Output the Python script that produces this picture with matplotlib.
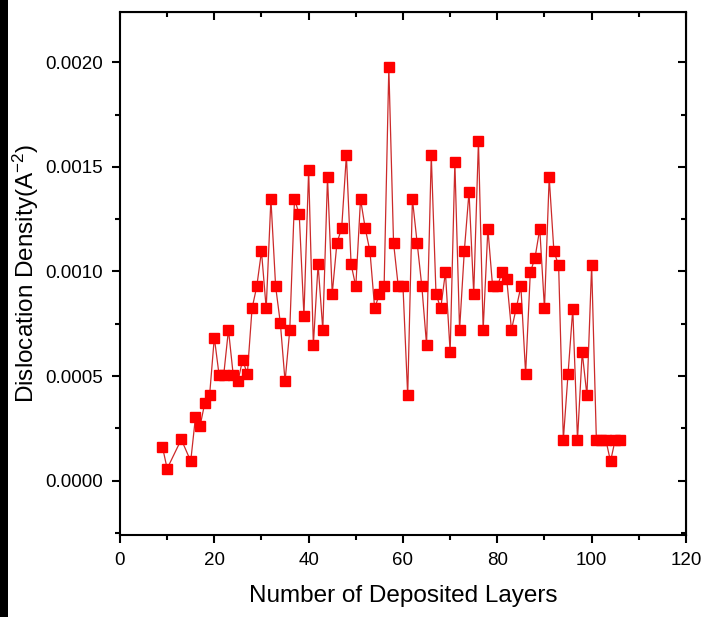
# Dislocation density vs number of deposited layers
import matplotlib.pyplot as plt
from matplotlib.ticker import MultipleLocator, FormatStrFormatter
import matplotlib.patches as mpatches

plt.rcParams['font.family'] = ['Liberation Sans', 'DejaVu Sans']
plt.rcParams['mathtext.default'] = 'regular'

# Data
layers = [9, 10, 13, 15, 16, 17, 18, 19, 20, 21, 22, 23, 24, 25, 26, 27, 28, 29, 30,
          31, 32, 33, 34, 35, 36, 37, 38, 39, 40, 41, 42, 43, 44, 45, 46, 47, 48, 49, 50,
          51, 52, 53, 54, 55, 56, 57, 58, 59, 60, 61, 62, 63, 64, 65, 66, 67, 68, 69, 70,
          71, 72, 73, 74, 75, 76, 77, 78, 79, 80, 81, 82, 83, 84, 85, 86, 87, 88, 89, 90,
          91, 92, 93, 94, 95, 96, 97, 98, 99, 100, 101, 102, 103, 104, 105, 106]
density = [0.000162, 0.000057, 0.000197, 0.000093, 0.000303, 0.000263, 0.000373, 0.000408, 0.000684,
           0.000507, 0.000507, 0.000721, 0.000507, 0.000474, 0.000578, 0.000509, 0.000823, 0.000928, 0.001096,
           0.000823, 0.001346, 0.000928, 0.000753, 0.000474, 0.000721, 0.001346, 0.001274, 0.000789, 0.001484,
           0.000649, 0.001034, 0.000721, 0.001450, 0.000893, 0.001137, 0.001206, 0.001555, 0.001034, 0.000928,
           0.001346, 0.001206, 0.001096, 0.000823, 0.000893, 0.000928, 0.001975, 0.001137, 0.000928, 0.000928,
           0.000407, 0.001346, 0.001137, 0.000928, 0.000649, 0.001555, 0.000893, 0.000823, 0.000996, 0.000614,
           0.001521, 0.000721, 0.001096, 0.001380, 0.000893, 0.001623, 0.000721, 0.001204, 0.000928, 0.000928,
           0.000996, 0.000963, 0.000721, 0.000823, 0.000928, 0.000511, 0.000996, 0.001066, 0.001204, 0.000823,
           0.001450, 0.001096, 0.001029, 0.000196, 0.000511, 0.000821, 0.000196, 0.000614, 0.000407, 0.001029,
           0.000196, 0.000196, 0.000196, 0.000092, 0.000196, 0.000196]

fig = plt.figure(figsize=(7.18, 6.17), dpi=100)
ax = fig.add_axes([0.1671, 0.1329, 0.7883, 0.8476])

ax.plot(layers, density, color='#cc2a2a', linewidth=0.9, marker='s', markersize=7.5,
        markerfacecolor='#ff0000', markeredgecolor='#ff0000')

ax.set_xlim(0, 120)
ax.set_ylim(-0.00026, 0.00224)
ax.xaxis.set_major_locator(MultipleLocator(20))
ax.xaxis.set_minor_locator(MultipleLocator(10))
ax.yaxis.set_major_locator(MultipleLocator(0.0005))
ax.yaxis.set_minor_locator(MultipleLocator(0.00025))
ax.yaxis.set_major_formatter(FormatStrFormatter('%.4f'))

for s in ax.spines.values():
    s.set_linewidth(1.5)
ax.tick_params(which='both', direction='out', width=1.5, labelsize=13.5, top=False, right=False)
ax.tick_params(which='major', length=6, pad=6)
ax.tick_params(which='minor', length=3.5)

# mirrored ticks pointing inward on top and right
axt = ax.secondary_xaxis('top')
axt.xaxis.set_major_locator(MultipleLocator(20))
axt.xaxis.set_minor_locator(MultipleLocator(10))
axt.tick_params(which='both', direction='in', width=1.5, labeltop=False)
axt.tick_params(which='major', length=6)
axt.tick_params(which='minor', length=3.5)
axr = ax.secondary_yaxis('right')
axr.yaxis.set_major_locator(MultipleLocator(0.0005))
axr.yaxis.set_minor_locator(MultipleLocator(0.00025))
axr.tick_params(which='both', direction='in', width=1.5, labelright=False)
axr.tick_params(which='major', length=6)
axr.tick_params(which='minor', length=3.5)

ax.set_xlabel('Number of Deposited Layers', fontsize=17.5, labelpad=12)
ax.set_ylabel('Dislocation Density(A$^{-2}$)', fontsize=17.5, labelpad=3)

# dark strip at the left edge of the screenshot
fig.patches.append(mpatches.Rectangle((0, 0), 8 / 718, 1, transform=fig.transFigure,
                                      facecolor='black', edgecolor='none'))

plt.savefig('out.png', dpi=100)
